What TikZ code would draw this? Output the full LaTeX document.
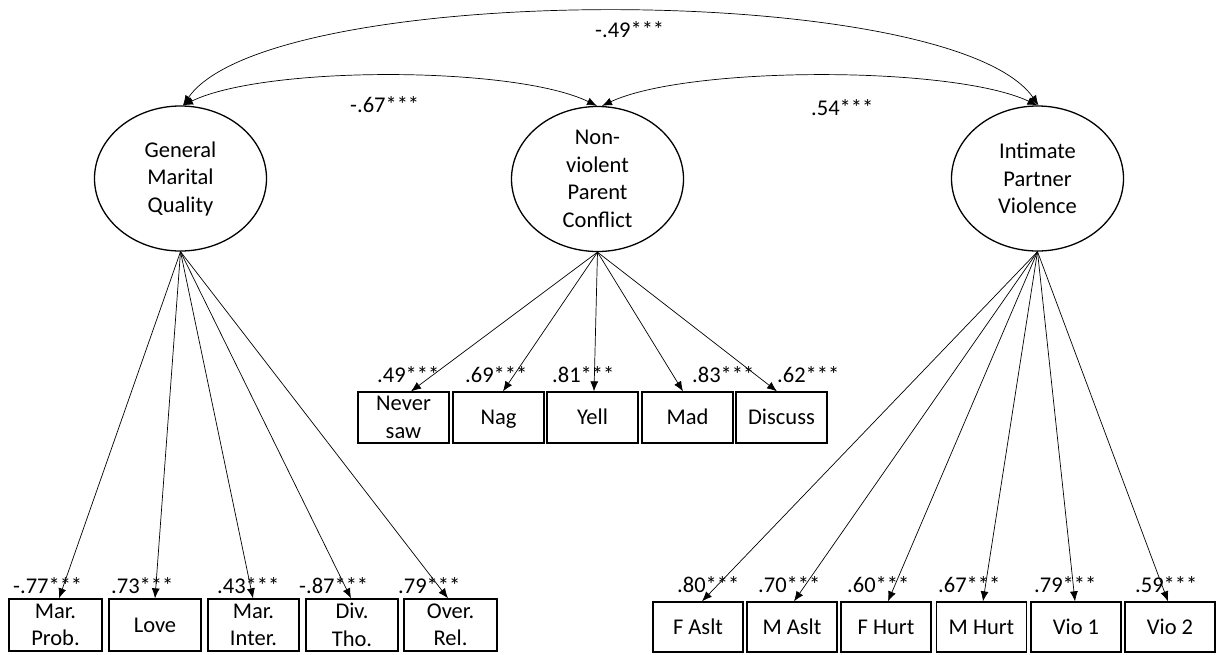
\documentclass[tikz,border=0pt]{standalone}
\usepackage{fontspec}
\setmainfont{Carlito}
\usetikzlibrary{shapes.geometric,arrows.meta}
\begin{document}
\begin{tikzpicture}[x=1pt,y=-1pt,
  every node/.style={font=\fontsize{22.5}{27.5}\selectfont, inner sep=0pt},
  latent/.style={ellipse, draw, line width=1.3pt, minimum width=172pt, minimum height=145pt, align=center},
  obs/.style={rectangle, draw, line width=1.3pt, minimum width=92pt, minimum height=52pt, align=center},
  one/.style={text height=14.5pt, text depth=0pt},
  load/.style={line width=0.7pt, -{Latex[length=10pt,width=8pt]}},
  cov/.style={line width=0.7pt, {Latex[length=10pt,width=8pt]}-{Latex[length=10pt,width=8pt]}},
  lab/.style={anchor=base west}]
\useasboundingbox (0,0) rectangle (1219,654);

% latent variables
\node[latent] (G) at (180.5,178.5) {General\\Marital\\Quality};
\node[latent] (N) at (597.5,179) {Non-\\violent\\Parent\\Conflict};
\node[latent] (I) at (1037.5,178.5) {Intimate\\Partner\\Violence};

% left indicators
\node[obs, minimum width=93pt] (g1) at (55.5,625) {Mar.\\Prob.};
\node[obs, one, minimum width=92pt] (g2) at (155,625) {Love};
\node[obs, minimum width=91pt] (g3) at (253.5,625) {Mar.\\Inter.};
\node[obs, minimum width=92pt] (g4) at (352,625) {Div.\\Tho.};
\node[obs, minimum width=93pt] (g5) at (450.5,625) {Over.\\Rel.};

% middle indicators
\node[obs, minimum width=91pt, minimum height=51pt] (n1) at (403.5,417.5) {Never\\saw};
\node[obs, one, minimum width=91pt, minimum height=51pt] (n2) at (498.5,417.5) {Nag};
\node[obs, one, minimum width=91pt, minimum height=51pt] (n3) at (592.5,417.5) {Yell};
\node[obs, one, minimum width=91pt, minimum height=51pt] (n4) at (687.5,417.5) {Mad};
\node[obs, one, minimum width=91pt, minimum height=51pt] (n5) at (781.5,417.5) {Discuss};

% right indicators
\node[obs, one, minimum width=90pt, minimum height=50pt] (i1) at (698,627) {F Aslt};
\node[obs, one, minimum width=90pt, minimum height=50pt] (i2) at (792,627) {M Aslt};
\node[obs, one, minimum width=90pt, minimum height=50pt] (i3) at (886,627) {F Hurt};
\node[obs, one, minimum width=90pt, minimum height=50pt] (i4) at (981.5,627) {M Hurt};
\node[obs, one, minimum width=90pt, minimum height=50pt] (i5) at (1076,627) {Vio 1};
\node[obs, one, minimum width=90pt, minimum height=50pt] (i6) at (1170,627) {Vio 2};

% loadings
\draw[load] (G.south) -- ([xshift=3.5pt]g1.north);
\draw[load] (G.south) -- (g2.north);
\draw[load] (G.south) -- ([xshift=-0.5pt]g3.north);
\draw[load] (G.south) -- ([xshift=-1pt]g4.north);
\draw[load] (G.south) -- ([xshift=-2.5pt]g5.north);

\draw[load] (N.south) -- ([xshift=7.5pt]n1.north);
\draw[load] (N.south) -- ([xshift=4.5pt]n2.north);
\draw[load] (N.south) -- ([xshift=1.5pt]n3.north);
\draw[load] (N.south) -- ([xshift=-4.5pt]n4.north);
\draw[load] (N.south) -- ([xshift=-4.5pt]n5.north);

\draw[load] (I.south) -- ([xshift=4pt]i1.north);
\draw[load] (I.south) -- ([xshift=2pt]i2.north);
\draw[load] (I.south) -- ([xshift=2pt]i3.north);
\draw[load] (I.south) -- ([xshift=1.5pt]i4.north);
\draw[load] (I.south) -- ([xshift=-1pt]i5.north);
\draw[load] (I.south) -- ([xshift=-2pt]i6.north);

% covariances
\draw[cov] ([xshift=2.5pt]G.north) .. controls +(82,-40) and +(-82,-40) .. ([xshift=-0.5pt]N.north);
\draw[cov] ([xshift=4.5pt]N.north) .. controls +(85,-40) and +(-85,-40) .. ([xshift=0pt]I.north);
\draw[cov] ([xshift=2.5pt]G.north) .. controls +(87,-125) and +(-87,-125) .. ([xshift=1pt]I.north);

% covariance labels
\node[lab] (c1) at (350,112) {-.67***};
\node[lab] (c2) at (811,115) {.54***};
\node[lab] (c3) at (595,37) {-.49***};

% loading labels
\node[lab] (lg1) at (13,593) {-.77***};
\node[lab] (lg2) at (111,593) {.73***};
\node[lab] (lg3) at (217,593) {.43***};
\node[lab] (lg4) at (299,593) {-.87***};
\node[lab] (lg5) at (398,593) {.79***};

\node[lab] (ln1) at (377,382) {.49***};
\node[lab] (ln2) at (465,382) {.69***};
\node[lab] (ln3) at (552,382) {.81***};
\node[lab] (ln4) at (692,382) {.83***};
\node[lab] (ln5) at (777,382) {.62***};

\node[lab] (li1) at (677,592) {.80***};
\node[lab] (li2) at (758,592) {.70***};
\node[lab] (li3) at (847,592) {.60***};
\node[lab] (li4) at (938,592) {.67***};
\node[lab] (li5) at (1034,592) {.79***};
\node[lab] (li6) at (1135,592) {.59***};
\end{tikzpicture}
\end{document}
